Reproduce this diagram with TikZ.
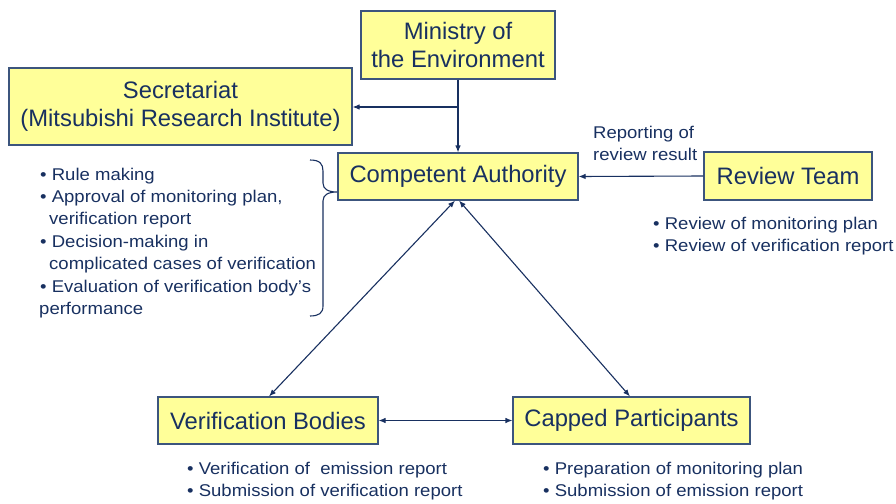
\documentclass[tikz,border=0pt]{standalone}
\usepackage{fontspec}
\setmainfont{Liberation Sans}
\newfontfamily\notefont[FakeStretch=1.09]{Liberation Sans}
\usetikzlibrary{arrows.meta}
\definecolor{navy}{RGB}{24,48,96}
\definecolor{boxfill}{RGB}{255,255,153}
\definecolor{boxline}{RGB}{60,85,125}
\begin{document}
\begin{tikzpicture}[x=1pt,y=-1pt,
  box/.style={draw=boxline, line width=1.1pt, fill=boxfill, text=navy, align=center,
    inner sep=0pt, font=\fontsize{23.8}{28.5}\selectfont},
  note/.style={text=navy, align=left, inner sep=0pt, anchor=north west,
    font=\notefont\fontsize{17}{22.4}\selectfont},
  arr/.style={draw=navy, line width=1.1pt, -{Latex[length=7pt,width=5.5pt]}},
  arrs/.style={draw=navy, line width=1.1pt, {Latex[length=7pt,width=5.5pt]}-{Latex[length=7pt,width=5.5pt]}}]
\useasboundingbox (0,0) rectangle (896,503);
% boxes
\node[box, minimum width=194pt, minimum height=68pt] (min) at (458,45) {Ministry of\\the Environment};
\node[box, minimum width=343pt, minimum height=77pt] (sec) at (180.5,106.5) {Secretariat\\(Mitsubishi Research Institute)};
\node[box, minimum width=240pt, minimum height=47pt] (ca) at (458,176.5) {Competent Authority};
\node[box, minimum width=168pt, minimum height=48pt] (rt) at (788,176) {Review Team};
\node[box, minimum width=220pt, minimum height=47pt] (vb) at (268,420.5) {Verification Bodies};
\node[box, minimum width=237pt, minimum height=47pt] (cp) at (631.5,420.5) {Capped Participants};
% connectors
\coordinate (br) at (458,107);
\draw[arr] (min.south) -- (ca.north);
\draw[arr] (br) -- (br -| sec.east);
\draw[arr] (rt.west) -- (ca.east);
\draw[arrs] ([xshift=-3pt]ca.south) -- ([xshift=1pt]vb.north);
\draw[arrs] ([xshift=1pt]ca.south) -- ([xshift=-1.5pt]cp.north);
\draw[arrs] (vb.east) -- (cp.west);
% brace
\draw[navy, line width=1.1pt] (310,160) .. controls (320,160) and (323,164) .. (323,171)
  -- (323,183) .. controls (323,189) and (328,192) .. (337,192)
  .. controls (328,192) and (323,195) .. (323,201)
  -- (323,306) .. controls (323,313) and (319,316) .. (310,316);
% notes
\node[note] (canote) at (39,167.5) {\hspace*{1pt}• Rule making\\
\hspace*{1pt}• Approval of monitoring plan,\\
\hspace*{10pt}verification report\\
\hspace*{1pt}• Decision-making in\\
\hspace*{10pt}complicated cases of verification\\
\hspace*{1pt}• Evaluation of verification body’s\\
performance};
\node[note] (replabel) at (593,126) {Reporting of\\review result};
\node[note] (rtnote) at (653,216.5) {• Review of monitoring plan\\• Review of verification report};
\node[note] (vbnote) at (187,461.5) {• Verification of \ emission report\\• Submission of verification report};
\node[note] (cpnote) at (543,461.5) {• Preparation of monitoring plan\\• Submission of emission report};
\end{tikzpicture}
\end{document}
